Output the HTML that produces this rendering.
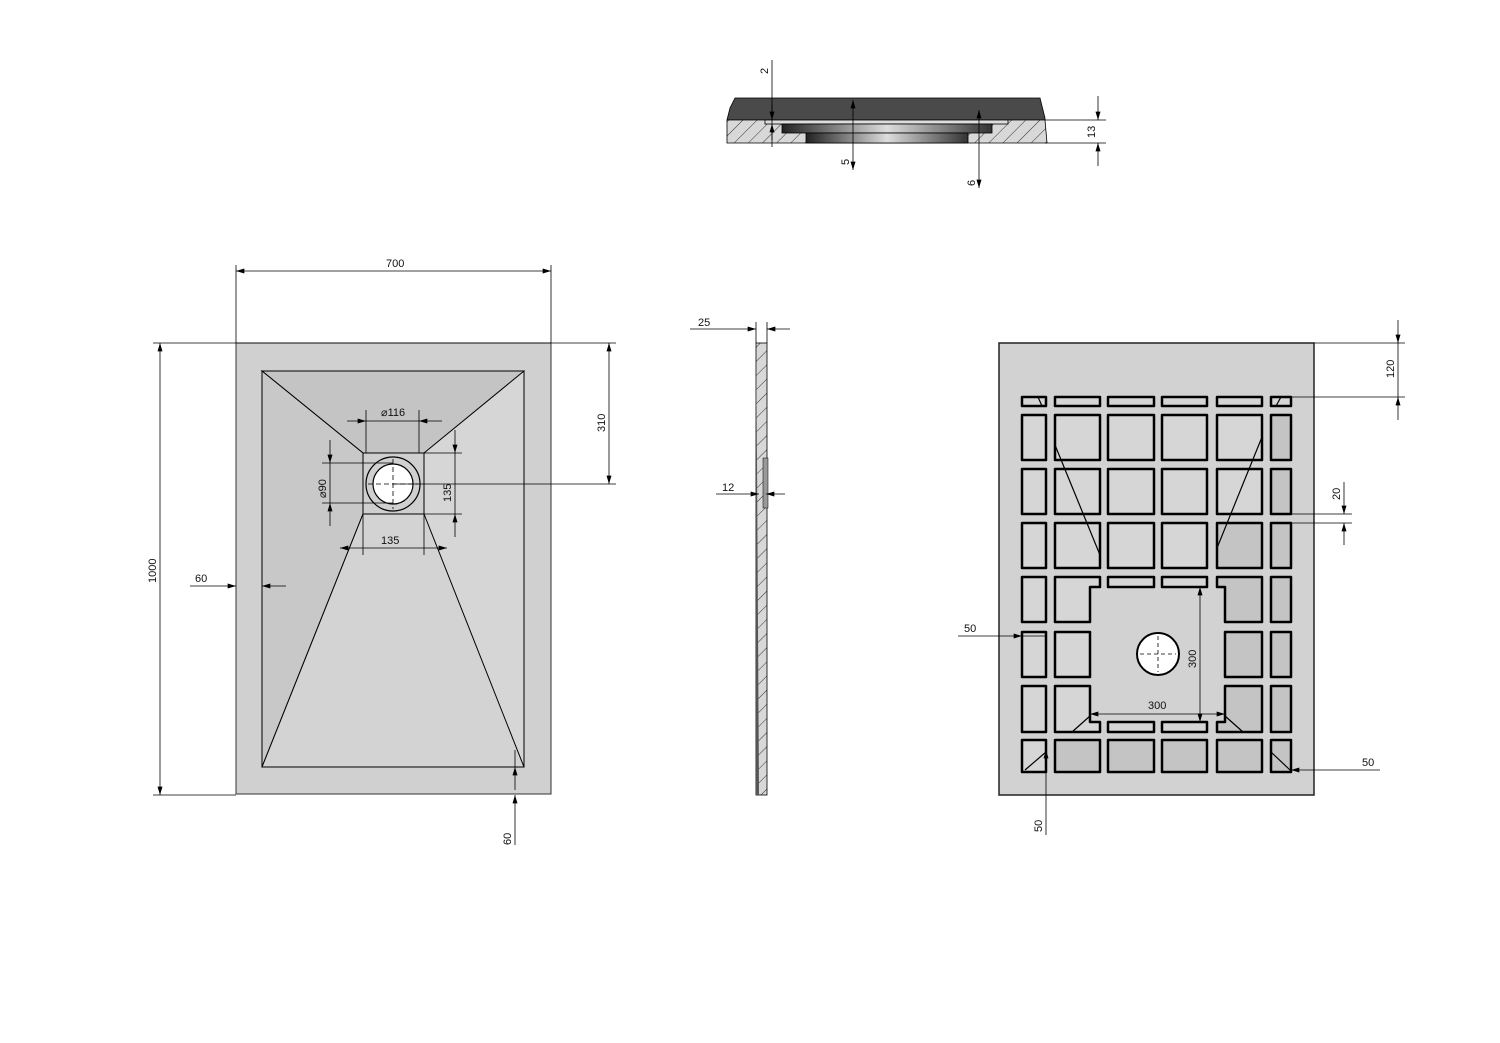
<!DOCTYPE html>
<html><head><meta charset="utf-8"><style>
html,body{margin:0;padding:0;background:#fff}
svg{display:block}
text{font-family:"Liberation Sans",sans-serif;font-size:11px;fill:#111}
</style></head><body>
<svg width="1500" height="1043" viewBox="0 0 1500 1043" xmlns="http://www.w3.org/2000/svg">
<defs>
<marker id="a" viewBox="0 0 10 6" refX="10" refY="3" markerWidth="12" markerHeight="5" orient="auto-start-reverse" markerUnits="userSpaceOnUse"><path d="M0,0 L10,3 L0,6z" fill="#000"/></marker>
<pattern id="h" width="10" height="10" patternUnits="userSpaceOnUse" patternTransform="rotate(45)"><rect width="10" height="10" fill="#d8d8d8"/><line x1="0" y1="0" x2="0" y2="10" stroke="#333" stroke-width="1"/></pattern>
<linearGradient id="g" x1="0" x2="1"><stop offset="0" stop-color="#222"/><stop offset="0.5" stop-color="#ddd"/><stop offset="1" stop-color="#333"/></linearGradient>
</defs>

<!-- TOP SECTION -->
<g stroke="#000" stroke-width="0.8">
<path d="M735,98 L1040,98 L1045,118 L1045,120 L727,120 L730,108Z" fill="#4a4a4a"/>
<path d="M727,120 L1045,120 L1047,143 L727,143Z" fill="url(#h)"/>
<rect x="765" y="120" width="243" height="4" fill="#ddd"/>
<rect x="782" y="124" width="210" height="9" fill="url(#g)"/>
<rect x="806" y="133" width="162" height="10" fill="url(#g)"/>
</g>
<g stroke="#000" stroke-width="0.8" fill="none">
<line x1="772" y1="60" x2="772" y2="147"/><line x1="772" y1="105" x2="772" y2="120" marker-end="url(#a)"/><line x1="772" y1="140" x2="772" y2="124" marker-end="url(#a)"/>
<line x1="853" y1="100" x2="853" y2="170" marker-start="url(#a)" marker-end="url(#a)"/>
<line x1="979" y1="110" x2="979" y2="188" marker-start="url(#a)" marker-end="url(#a)"/>
<line x1="1045" y1="120" x2="1106" y2="120"/><line x1="1045" y1="143" x2="1106" y2="143"/>
<line x1="1098" y1="96" x2="1098" y2="120" marker-end="url(#a)"/><line x1="1098" y1="166" x2="1098" y2="143" marker-end="url(#a)"/>
</g>
<text transform="translate(768,74) rotate(-90)">2</text>
<text transform="translate(849,165) rotate(-90)">5</text>
<text transform="translate(975,186) rotate(-90)">6</text>
<text transform="translate(1095,138) rotate(-90)">13</text>

<!-- PLAN VIEW -->
<rect x="236" y="343" width="315" height="451" fill="#d0d0d0" stroke="#333" stroke-width="1"/>
<rect x="262" y="371" width="262" height="396" fill="#d6d6d6" stroke="#000" stroke-width="1"/>
<path d="M262,371 L524,371 L424,453 L363,453Z" fill="#c4c4c4" stroke="#000" stroke-width="1"/>
<path d="M262,371 L363,453 L363,514 L262,767Z" fill="#c8c8c8" stroke="#000" stroke-width="1"/>
<path d="M363,514 L424,514 L524,767 L262,767Z" fill="#d3d3d3" stroke="#000" stroke-width="1"/>
<rect x="363" y="453" width="61" height="61" fill="#cfcfcf" stroke="#000" stroke-width="1"/>
<circle cx="393" cy="484" r="27" fill="#d0d0d0" stroke="#000" stroke-width="1.2"/>
<circle cx="393" cy="484" r="20" fill="#fff" stroke="#000" stroke-width="1.2"/>
<g stroke="#000" stroke-width="0.8" stroke-dasharray="5,3"><line x1="368" y1="484" x2="418" y2="484"/><line x1="393" y1="459" x2="393" y2="509"/></g>
<g stroke="#000" stroke-width="0.8" fill="none">
<line x1="236" y1="265" x2="236" y2="343"/><line x1="551" y1="265" x2="551" y2="343"/>
<line x1="236" y1="271" x2="551" y2="271" marker-start="url(#a)" marker-end="url(#a)"/>
<line x1="153" y1="343" x2="616" y2="343"/><line x1="153" y1="795" x2="236" y2="795"/>
<line x1="160" y1="343" x2="160" y2="795" marker-start="url(#a)" marker-end="url(#a)"/>
<line x1="393" y1="484" x2="616" y2="484"/>
<line x1="609" y1="343" x2="609" y2="484" marker-start="url(#a)" marker-end="url(#a)"/>
<line x1="190" y1="586" x2="236" y2="586" marker-end="url(#a)"/><line x1="286" y1="586" x2="262" y2="586" marker-end="url(#a)"/>
<line x1="515" y1="750" x2="515" y2="767"/><line x1="515" y1="845" x2="515" y2="795" marker-end="url(#a)"/><line x1="515" y1="790" x2="515" y2="767" marker-end="url(#a)"/>
<line x1="366" y1="410" x2="366" y2="453"/><line x1="419" y1="410" x2="419" y2="453"/>
<line x1="347" y1="421" x2="366" y2="421" marker-end="url(#a)"/><line x1="442" y1="421" x2="419" y2="421" marker-end="url(#a)"/><line x1="366" y1="421" x2="419" y2="421"/>
<line x1="322" y1="463" x2="393" y2="463"/><line x1="322" y1="503" x2="393" y2="503"/>
<line x1="330" y1="440" x2="330" y2="463" marker-end="url(#a)"/><line x1="330" y1="526" x2="330" y2="503" marker-end="url(#a)"/><line x1="330" y1="463" x2="330" y2="503"/>
<line x1="424" y1="453" x2="462" y2="453"/><line x1="424" y1="514" x2="462" y2="514"/>
<line x1="455" y1="430" x2="455" y2="453" marker-end="url(#a)"/><line x1="455" y1="537" x2="455" y2="514" marker-end="url(#a)"/><line x1="455" y1="453" x2="455" y2="514"/>
<line x1="363" y1="514" x2="363" y2="555"/><line x1="424" y1="514" x2="424" y2="555"/>
<line x1="340" y1="548" x2="447" y2="548" marker-start="url(#a)" marker-end="url(#a)"/>
</g>
<text x="386" y="267">700</text>
<text transform="translate(156,583) rotate(-90)">1000</text>
<text transform="translate(605,432) rotate(-90)">310</text>
<text x="195" y="582">60</text>
<text transform="translate(511,845) rotate(-90)">60</text>
<text x="381" y="416">⌀116</text>
<text transform="translate(326,498) rotate(-90)">⌀90</text>
<text transform="translate(451,502) rotate(-90)">135</text>
<text x="381" y="544">135</text>

<!-- SIDE VIEW -->
<rect x="756" y="343" width="11" height="452" fill="url(#h)" stroke="#000" stroke-width="0.8"/>
<path d="M756,343 L757,460 L759,795 L756,795Z" fill="#555"/>
<rect x="763" y="458" width="5" height="50" fill="#999" stroke="#000" stroke-width="0.5"/>
<g stroke="#000" stroke-width="0.8">
<line x1="756" y1="322" x2="756" y2="343"/><line x1="767" y1="322" x2="767" y2="343"/>
<line x1="690" y1="329" x2="756" y2="329" marker-end="url(#a)"/><line x1="790" y1="329" x2="767" y2="329" marker-end="url(#a)"/>
<line x1="716" y1="494" x2="759" y2="494" marker-end="url(#a)"/><line x1="785" y1="494" x2="766" y2="494" marker-end="url(#a)"/>
</g>
<text x="698" y="326">25</text>
<text x="722" y="491">12</text>

<!-- BACK VIEW -->
<rect x="999" y="343" width="315" height="452" fill="#d2d2d2" stroke="#222" stroke-width="1.5"/>
<g stroke="#000" stroke-width="2.5" fill="#d6d6d6" stroke-linejoin="round">
<rect x="1022" y="397" width="24" height="9"/><rect x="1055" y="397" width="45" height="9"/><rect x="1108" y="397" width="46" height="9"/><rect x="1162" y="397" width="45" height="9"/><rect x="1217" y="397" width="45" height="9"/><rect x="1271" y="397" width="20" height="9"/>
<rect x="1022" y="415" width="24" height="45"/><rect x="1055" y="415" width="45" height="45"/><rect x="1108" y="415" width="46" height="45"/><rect x="1162" y="415" width="45" height="45"/><rect x="1217" y="415" width="45" height="45"/><rect x="1271" y="415" width="20" height="45" fill="#c4c4c4"/>
<rect x="1022" y="469" width="24" height="45"/><rect x="1055" y="469" width="45" height="45"/><rect x="1108" y="469" width="46" height="45"/><rect x="1162" y="469" width="45" height="45"/><rect x="1217" y="469" width="45" height="45"/><rect x="1271" y="469" width="20" height="45" fill="#c4c4c4"/>
<rect x="1022" y="523" width="24" height="45"/><rect x="1055" y="523" width="45" height="45"/><rect x="1108" y="523" width="46" height="45"/><rect x="1162" y="523" width="45" height="45"/><rect x="1217" y="523" width="45" height="45" fill="#c4c4c4"/><rect x="1271" y="523" width="20" height="45" fill="#c4c4c4"/>
<rect x="1022" y="577" width="24" height="45"/>
<path d="M1055,577 L1100,577 L1100,587 L1090,587 L1090,622 L1055,622Z"/>
<rect x="1108" y="577" width="46" height="10"/><rect x="1162" y="577" width="45" height="10"/>
<path d="M1217,577 L1262,577 L1262,622 L1225,622 L1225,587 L1217,587Z" fill="#c4c4c4"/>
<rect x="1271" y="577" width="20" height="45" fill="#c4c4c4"/>
<rect x="1022" y="632" width="24" height="45"/><rect x="1055" y="632" width="35" height="45"/><rect x="1225" y="632" width="37" height="45" fill="#c4c4c4"/><rect x="1271" y="632" width="20" height="45" fill="#c4c4c4"/>
<rect x="1022" y="686" width="24" height="46"/>
<path d="M1055,686 L1090,686 L1090,722 L1100,722 L1100,732 L1055,732Z"/>
<rect x="1108" y="722" width="46" height="10"/><rect x="1162" y="722" width="45" height="10"/>
<path d="M1225,686 L1262,686 L1262,732 L1217,732 L1217,722 L1225,722Z" fill="#c4c4c4"/>
<rect x="1271" y="686" width="20" height="46" fill="#c4c4c4"/>
<rect x="1022" y="740" width="24" height="32"/><rect x="1055" y="740" width="45" height="32" fill="#c4c4c4"/><rect x="1108" y="740" width="46" height="32" fill="#c4c4c4"/><rect x="1162" y="740" width="45" height="32" fill="#c4c4c4"/><rect x="1217" y="740" width="45" height="32" fill="#c4c4c4"/><rect x="1271" y="740" width="20" height="32" fill="#c4c4c4"/>
</g>
<g stroke="#000" stroke-width="1.2">
<line x1="1055" y1="445" x2="1100" y2="555"/><line x1="1262" y1="437" x2="1217" y2="548"/>
<line x1="1072" y1="732" x2="1090" y2="716"/><line x1="1243" y1="732" x2="1225" y2="716"/>
<line x1="1025" y1="770" x2="1046" y2="752"/><line x1="1271" y1="752" x2="1290" y2="770"/>
<line x1="1038" y1="397" x2="1042" y2="406"/><line x1="1281" y1="397" x2="1276" y2="406"/>
</g>
<circle cx="1158" cy="654" r="21" fill="#fff" stroke="#000" stroke-width="2"/>
<g stroke="#000" stroke-width="0.8" stroke-dasharray="4,3"><line x1="1140" y1="654" x2="1176" y2="654"/><line x1="1158" y1="636" x2="1158" y2="672"/></g>
<g stroke="#000" stroke-width="0.8">
<line x1="1314" y1="343" x2="1405" y2="343"/><line x1="1291" y1="397" x2="1405" y2="397"/>
<line x1="1398" y1="320" x2="1398" y2="343" marker-end="url(#a)"/><line x1="1398" y1="420" x2="1398" y2="397" marker-end="url(#a)"/><line x1="1398" y1="343" x2="1398" y2="397"/>
<line x1="1291" y1="514" x2="1352" y2="514"/><line x1="1291" y1="523" x2="1352" y2="523"/>
<line x1="1344" y1="482" x2="1344" y2="514" marker-end="url(#a)"/><line x1="1344" y1="545" x2="1344" y2="523" marker-end="url(#a)"/>
<line x1="958" y1="636" x2="1022" y2="636" marker-end="url(#a)"/><line x1="1022" y1="636" x2="1045" y2="636"/>
<line x1="1200" y1="587" x2="1200" y2="722" marker-start="url(#a)" marker-end="url(#a)"/>
<line x1="1090" y1="714" x2="1225" y2="714" marker-start="url(#a)" marker-end="url(#a)"/>
<line x1="1380" y1="770" x2="1291" y2="770" marker-end="url(#a)"/>
<line x1="1046" y1="835" x2="1046" y2="750" marker-end="url(#a)"/>
</g>
<text transform="translate(1394,378) rotate(-90)">120</text>
<text transform="translate(1340,500) rotate(-90)">20</text>
<text x="964" y="632">50</text>
<text transform="translate(1196,668) rotate(-90)">300</text>
<text x="1148" y="709">300</text>
<text x="1362" y="766">50</text>
<text transform="translate(1042,832) rotate(-90)">50</text>
</svg>
</body></html>
